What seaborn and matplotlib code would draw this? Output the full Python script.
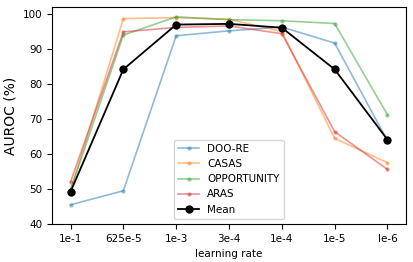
import matplotlib
matplotlib.use("Agg")
import matplotlib.pyplot as plt
import numpy as np
import pandas as pd
import seaborn as sns

# ── data ───────────────────────────────────────────────────────────────────
lr_labels = ["1e-1", "625e-5", "1e-3", "3e-4", "1e-4", "1e-5", "le-6"]
doo_re      = [45.5, 49.5, 93.8, 95.2, 96.3, 91.7, 63.8]
casas       = [49.5, 98.7, 99.0, 98.5, 95.0, 64.5, 57.5]
opportunity = [49.8, 94.0, 99.2, 98.4, 98.1, 97.3, 71.2]
aras        = [52.0, 94.9, 96.2, 96.6, 94.4, 66.4, 55.6]
mean_auroc  = [49.2, 84.2, 97.0, 97.2, 96.1, 84.2, 64.1]

series = {
    "DOO-RE": doo_re,
    "CASAS": casas,
    "OPPORTUNITY": opportunity,
    "ARAS": aras,
}
colors = sns.color_palette("tab10", 4)

fig, ax = plt.subplots(figsize=(4.13, 2.62), dpi=100)
x = np.arange(len(lr_labels))

for (name, vals), c in zip(series.items(), colors):
    df = pd.DataFrame({"x": x, "y": vals})
    sns.lineplot(data=df, x="x", y="y", ax=ax, color=c, alpha=0.5,
                 marker=".", markersize=6, markeredgewidth=0, linewidth=1.2,
                 label=name, sort=False)

df_mean = pd.DataFrame({"x": x, "y": mean_auroc})
sns.lineplot(data=df_mean, x="x", y="y", ax=ax, color="black", marker="o",
             markersize=6, markeredgewidth=0, linewidth=1.3, label="Mean", sort=False)

ax.set_xticks(x)
ax.set_xticklabels(lr_labels)
ax.set_xlim(-0.35, 6.35)
ax.set_ylim(40, 102)
ax.set_yticks([40, 50, 60, 70, 80, 90, 100])
ax.tick_params(labelsize=7.5)
ax.set_xlabel("learning rate", fontsize=7.5)
ax.set_ylabel("AUROC (%)", fontsize=10)
ax.legend(loc="lower center", fontsize=7.5, framealpha=0.8)

fig.subplots_adjust(left=0.126, right=0.983, top=0.973, bottom=0.145)
fig.savefig("out.png", dpi=100)
